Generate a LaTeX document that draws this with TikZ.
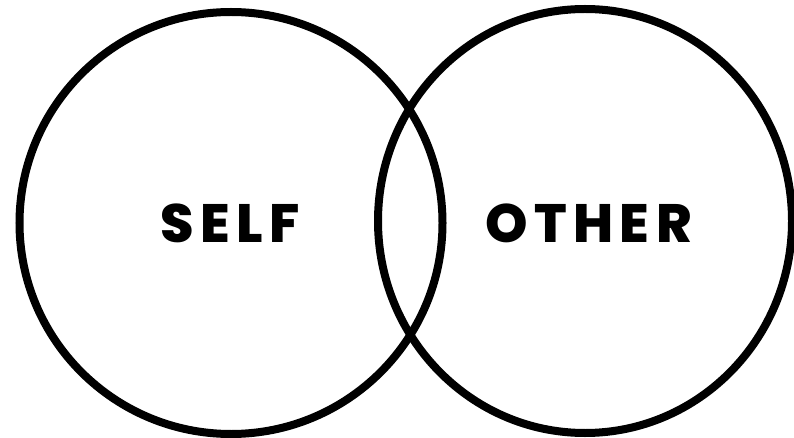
\documentclass[tikz,border=0pt]{standalone}
\usepackage{fontspec}
\newfontfamily\labelfont[LetterSpace=12]{Poppins ExtraBold}
\usetikzlibrary{shapes.geometric}
\begin{document}
\begin{tikzpicture}[x=1pt,y=-1pt,
  ring/.style={draw=black, line width=8pt, ellipse, inner sep=0pt},
  word/.style={anchor=base, inner sep=0pt, font=\labelfont\fontsize{54}{54}\selectfont}]
\fill[white] (0,0) rectangle (794,438);
\useasboundingbox (0,0) rectangle (794,438);
\node[ring, minimum width=423pt, minimum height=422pt] (self) at (231,223) {};
\node[ring, minimum width=414pt, minimum height=424pt] (other) at (585,221) {};
\node[word] (selflabel) at (230.5,243) {SELF};
\node[word] (otherlabel) at (588.5,243) {OTHER};
\end{tikzpicture}
\end{document}
